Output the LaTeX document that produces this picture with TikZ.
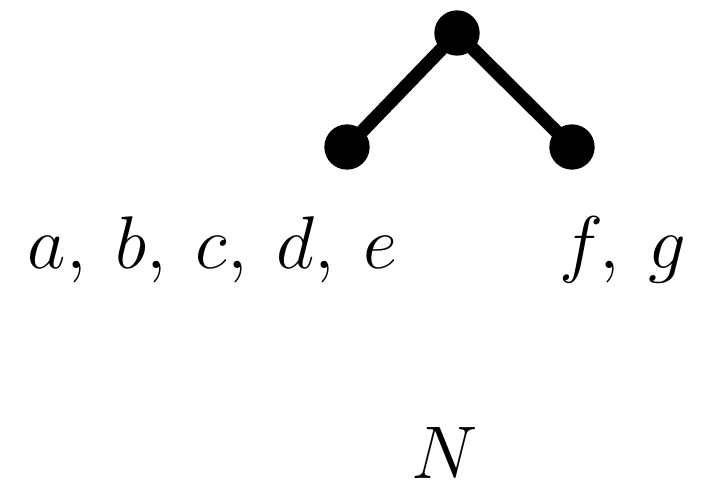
\RequirePackage{fix-cm}
\documentclass[tikz,border=0pt]{standalone}
\begin{document}
\begin{tikzpicture}[x=0.75pt,y=-0.75pt,
  dot/.style={circle,fill=black,inner sep=0pt,minimum size=34pt},
  edge/.style={line width=10pt},
  lbl/.style={anchor=base,inner sep=0pt,font=\fontsize{56}{60}\selectfont}]
\useasboundingbox (0,0) rectangle (715,493);
\node[dot] (top) at (457,33) {};
\node[dot] (l) at (347,147) {};
\node[dot] (r) at (572,147) {};
\draw[edge] (l.center) -- (top.center) -- (r.center);
\node[lbl] (t1) at (213,268) {$a,\:b,\:c,\:d,\:e$};
\node[lbl] (t2) at (623,268) {$f,\:g$};
\node[lbl] (t3) at (445,478) {$N$};
\end{tikzpicture}
\end{document}
